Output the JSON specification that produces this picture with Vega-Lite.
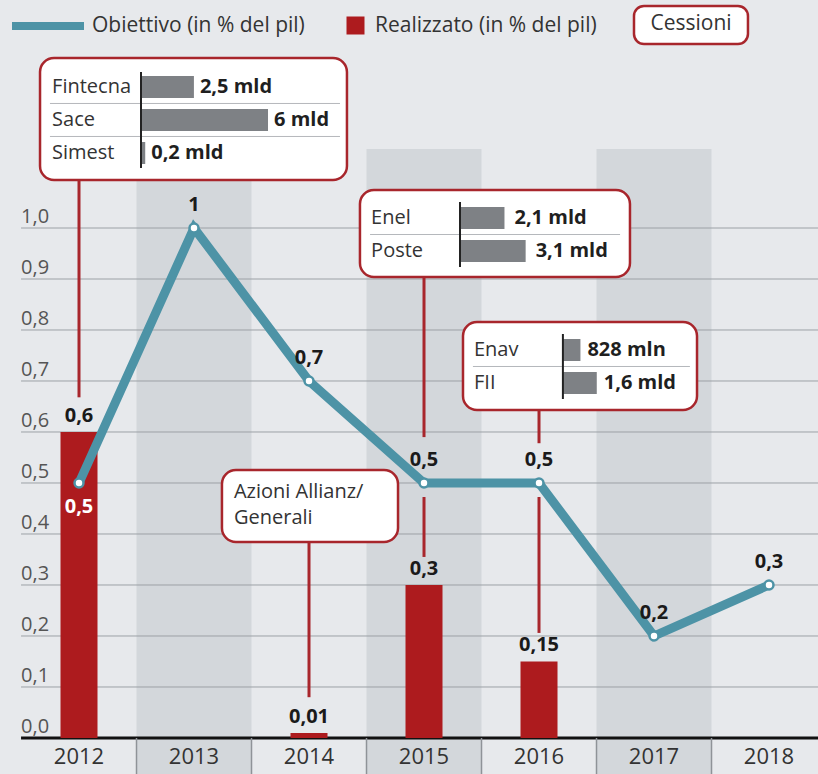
{
  "$schema": "https://vega.github.io/schema/vega-lite/v6.json",
  "width": 818,
  "height": 774,
  "autosize": {"type": "none"},
  "padding": 0,
  "background": "#e7e9ec",
  "config": {
    "view": {"stroke": null},
    "font": "Open Sans",
    "locale": {"number": {"decimal": ",", "thousands": ".", "grouping": [3], "currency": ["€", ""]}}
  },
  "datasets": {
    "obiettivo": [
      {"year": 2012, "v": 0.5}, {"year": 2013, "v": 1.0}, {"year": 2014, "v": 0.7},
      {"year": 2015, "v": 0.5}, {"year": 2016, "v": 0.5}, {"year": 2017, "v": 0.2}, {"year": 2018, "v": 0.3}
    ],
    "realizzato": [
      {"year": 2012, "v": 0.6}, {"year": 2014, "v": 0.01}, {"year": 2015, "v": 0.3}, {"year": 2016, "v": 0.15}
    ],
    "columns": [{"year": 2013}, {"year": 2015}, {"year": 2017}],
    "grid": [
      {"v": 0}, {"v": 0.1}, {"v": 0.2}, {"v": 0.3}, {"v": 0.4}, {"v": 0.5},
      {"v": 0.6}, {"v": 0.7}, {"v": 0.8}, {"v": 0.9}, {"v": 1.0}
    ],
    "connectors": [
      {"year": 2012, "v": 1.094, "v2": 0.668},
      {"year": 2015, "v": 0.904, "v2": 0.59},
      {"year": 2015, "v": 0.4725, "v2": 0.355},
      {"year": 2016, "v": 0.643, "v2": 0.578},
      {"year": 2016, "v": 0.4725, "v2": 0.206},
      {"year": 2014, "v": 0.384, "v2": 0.08}
    ],
    "callouts": [
      {"x1": 2011.661, "x2": 2014.330, "v": 1.3333, "v2": 1.094, "text": ""},
      {"x1": 2014.443, "x2": 2016.791, "v": 1.0745, "v2": 0.9039, "text": ""},
      {"x1": 2015.339, "x2": 2017.374, "v": 0.8157, "v2": 0.6431, "text": ""},
      {"x1": 2013.243, "x2": 2014.774, "v": 0.5255, "v2": 0.3843, "text": "Azioni Allianz/\nGenerali"}
    ],
    "cessioni": [
      {"x1": 2016.826, "x2": 2017.817, "v": 1.4353, "v2": 1.3608, "text": "Cessioni"}
    ],
    "box1": [
      {"row": 0, "name": "Fintecna", "val": 2.5, "label": "2,5 mld", "v": 1.2765},
      {"row": 1, "name": "Sace", "val": 6, "label": "6 mld", "v": 1.2118},
      {"row": 2, "name": "Simest", "val": 0.2, "label": "0,2 mld", "v": 1.1471}
    ],
    "box2": [
      {"row": 0, "name": "Enel", "val": 2.1, "label": "2,1 mld", "v": 1.0196},
      {"row": 1, "name": "Poste", "val": 3.1, "label": "3,1 mld", "v": 0.9549}
    ],
    "box3": [
      {"row": 0, "name": "Enav", "val": 0.828, "label": "828 mln", "v": 0.7608},
      {"row": 1, "name": "FII", "val": 1.6, "label": "1,6 mld", "v": 0.6961}
    ]
  },
  "resolve": {"scale": {"x": "independent"}},
  "layer": [
    {
      "layer": [
        {
          "data": {"name": "columns"},
          "mark": {"type": "bar", "width": 115, "color": "#d3d7db"},
          "encoding": {
            "x": {
              "field": "year", "type": "quantitative",
              "scale": {"domain": [2011.313, 2018.426], "nice": false, "zero": false, "padding": 0},
              "axis": null
            },
            "y": {
              "datum": 1.155, "type": "quantitative",
              "scale": {"domain": [-0.07059, 1.44706], "nice": false, "zero": false, "padding": 0},
              "axis": null
            },
            "y2": {"datum": -0.07059}
          }
        },
        {
          "data": {"name": "grid"},
          "mark": {"type": "rule"},
          "encoding": {
            "x": {"datum": 2011.496, "type": "quantitative", "axis": null},
            "x2": {"datum": 2018.426},
            "y": {"field": "v", "type": "quantitative", "axis": null},
            "color": {"condition": {"test": "datum.v == 0", "value": "#111111"}, "value": "#9ca1a6"},
            "strokeWidth": {"condition": {"test": "datum.v == 0", "value": 3}, "value": 1}
          }
        },
        {
          "data": {"name": "grid"},
          "mark": {"type": "text", "align": "left", "baseline": "alphabetic", "dy": -5, "fontSize": 20, "color": "#555555"},
          "encoding": {
            "x": {"datum": 2011.496, "type": "quantitative", "axis": null},
            "y": {"field": "v", "type": "quantitative", "axis": null},
            "text": {"field": "v", "type": "quantitative", "format": ".1f"}
          }
        },
        {
          "data": {"name": "obiettivo"},
          "transform": [{"filter": "datum.year < 2018"}],
          "mark": {"type": "rule", "xOffset": 57.5, "color": "#8f9398", "strokeWidth": 1.5},
          "encoding": {
            "x": {"field": "year", "type": "quantitative", "axis": null},
            "y": {"datum": 0, "type": "quantitative", "axis": null},
            "y2": {"datum": -0.07059}
          }
        },
        {
          "data": {"name": "obiettivo"},
          "mark": {"type": "text", "align": "center", "baseline": "middle", "dy": 19, "fontSize": 22, "color": "#333333"},
          "encoding": {
            "x": {"field": "year", "type": "quantitative", "axis": null},
            "y": {"datum": 0, "type": "quantitative", "axis": null},
            "text": {"field": "year", "type": "quantitative", "format": "d"}
          }
        },
        {
          "data": {"name": "connectors"},
          "mark": {"type": "rule", "color": "#a8262c", "strokeWidth": 3},
          "encoding": {
            "x": {"field": "year", "type": "quantitative", "axis": null},
            "y": {"field": "v", "type": "quantitative", "axis": null},
            "y2": {"field": "v2"}
          }
        },
        {
          "data": {"name": "realizzato"},
          "mark": {"type": "bar", "width": 37},
          "encoding": {
            "x": {"field": "year", "type": "quantitative", "axis": null},
            "y": {"field": "v", "type": "quantitative", "axis": null},
            "color": {
              "datum": "Realizzato (in % del pil)", "type": "nominal",
              "scale": {"range": ["#ad1b1e"]},
              "legend": {
                "orient": "none", "legendX": 345, "legendY": 15, "title": null, "padding": 0,
                "symbolType": "square", "symbolSize": 324, "symbolStrokeWidth": 0, "labelOffset": 9,
                "labelFontSize": 21, "labelColor": "#333333", "labelFont": "Open Sans", "labelLimit": 400
              }
            }
          }
        },
        {
          "data": {"name": "obiettivo"},
          "mark": {"type": "line", "strokeWidth": 9},
          "encoding": {
            "x": {"field": "year", "type": "quantitative", "axis": null},
            "y": {"field": "v", "type": "quantitative", "axis": null},
            "stroke": {
              "datum": "Obiettivo (in % del pil)", "type": "nominal",
              "scale": {"range": ["#4d93a6"]},
              "legend": {
                "orient": "none", "legendX": 8, "legendY": -14, "title": null, "padding": 0,
                "symbolType": "stroke", "symbolSize": 5184, "symbolStrokeWidth": 8, "labelOffset": 4,
                "labelFontSize": 21, "labelColor": "#333333", "labelFont": "Open Sans", "labelLimit": 400
              }
            }
          }
        },
        {
          "data": {"name": "obiettivo"},
          "mark": {"type": "point", "filled": true, "fill": "#ffffff", "stroke": "#4d93a6", "strokeWidth": 2.5, "size": 80, "opacity": 1},
          "encoding": {
            "x": {"field": "year", "type": "quantitative", "axis": null},
            "y": {"field": "v", "type": "quantitative", "axis": null}
          }
        },
        {
          "data": {"name": "obiettivo"},
          "transform": [{"filter": "datum.year != 2012"}],
          "mark": {"type": "text", "dy": -17, "fontSize": 20, "fontWeight": "bold", "color": "#1a1a1a", "baseline": "alphabetic"},
          "encoding": {
            "x": {"field": "year", "type": "quantitative", "axis": null},
            "y": {"field": "v", "type": "quantitative", "axis": null},
            "text": {"field": "v", "type": "quantitative", "format": "~g"}
          }
        },
        {
          "data": {"name": "obiettivo"},
          "transform": [{"filter": "datum.year == 2012"}],
          "mark": {"type": "text", "dy": 30, "fontSize": 20, "fontWeight": "bold", "color": "#ffffff", "baseline": "alphabetic"},
          "encoding": {
            "x": {"field": "year", "type": "quantitative", "axis": null},
            "y": {"field": "v", "type": "quantitative", "axis": null},
            "text": {"field": "v", "type": "quantitative", "format": "~g"}
          }
        },
        {
          "data": {"name": "realizzato"},
          "mark": {"type": "text", "dy": -10, "fontSize": 20, "fontWeight": "bold", "color": "#1a1a1a", "baseline": "alphabetic"},
          "encoding": {
            "x": {"field": "year", "type": "quantitative", "axis": null},
            "y": {"field": "v", "type": "quantitative", "axis": null},
            "text": {"field": "v", "type": "quantitative", "format": "~g"}
          }
        },
        {
          "data": {"name": "callouts"},
          "mark": {"type": "rect", "cornerRadius": 14, "fill": "#ffffff", "stroke": "#a8262c", "strokeWidth": 2.5},
          "encoding": {
            "x": {"field": "x1", "type": "quantitative", "axis": null},
            "x2": {"field": "x2"},
            "y": {"field": "v", "type": "quantitative", "axis": null},
            "y2": {"field": "v2"}
          }
        },
        {
          "data": {"name": "callouts"},
          "mark": {"type": "text", "align": "left", "baseline": "top", "dx": 12, "dy": 12, "fontSize": 20, "color": "#333333", "lineBreak": "\n", "lineHeight": 26},
          "encoding": {
            "x": {"field": "x1", "type": "quantitative", "axis": null},
            "y": {"field": "v", "type": "quantitative", "axis": null},
            "text": {"field": "text"}
          }
        },
        {
          "data": {"name": "cessioni"},
          "mark": {"type": "rect", "cornerRadius": 10, "fill": "#ffffff", "stroke": "#a8262c", "strokeWidth": 2.5},
          "encoding": {
            "x": {"field": "x1", "type": "quantitative", "axis": null},
            "x2": {"field": "x2"},
            "y": {"field": "v", "type": "quantitative", "axis": null},
            "y2": {"field": "v2"}
          }
        },
        {
          "data": {"name": "cessioni"},
          "mark": {"type": "text", "align": "center", "baseline": "middle", "dx": 57, "dy": 18, "fontSize": 21, "color": "#333333"},
          "encoding": {
            "x": {"field": "x1", "type": "quantitative", "axis": null},
            "y": {"field": "v", "type": "quantitative", "axis": null},
            "text": {"field": "text"}
          }
        }
      ]
    },
    {
      "data": {"name": "box1"},
      "layer": [
        {
          "mark": {"type": "bar", "orient": "horizontal", "height": 22, "color": "#7e8185"},
          "encoding": {
            "x": {"field": "val", "type": "quantitative", "scale": {"domain": [-6.66, 31.98], "nice": false, "zero": false, "padding": 0}, "axis": null},
            "x2": {"datum": 0},
            "y": {"field": "v", "type": "quantitative", "axis": null}
          }
        },
        {
          "transform": [{"filter": "datum.row > 0"}],
          "mark": {"type": "rule", "yOffset": -16.5, "color": "#b5b8bc", "strokeWidth": 1},
          "encoding": {
            "x": {"datum": -4.3, "type": "quantitative", "axis": null},
            "x2": {"datum": 9.4},
            "y": {"field": "v", "type": "quantitative", "axis": null}
          }
        },
        {
          "mark": {"type": "rule", "yOffset": -15, "y2Offset": 15, "color": "#222222", "strokeWidth": 2},
          "encoding": {
            "x": {"datum": 0, "type": "quantitative", "axis": null},
            "y": {"aggregate": "max", "field": "v", "type": "quantitative", "axis": null},
            "y2": {"aggregate": "min", "field": "v"}
          }
        },
        {
          "mark": {"type": "text", "align": "left", "baseline": "middle", "fontSize": 20, "color": "#333333"},
          "encoding": {
            "x": {"datum": -4.2, "type": "quantitative", "axis": null},
            "y": {"field": "v", "type": "quantitative", "axis": null},
            "text": {"field": "name"}
          }
        },
        {
          "mark": {"type": "text", "align": "left", "baseline": "middle", "dx": 6, "fontSize": 20, "fontWeight": "bold", "color": "#1f1f1f"},
          "encoding": {
            "x": {"field": "val", "type": "quantitative", "axis": null},
            "y": {"field": "v", "type": "quantitative", "axis": null},
            "text": {"field": "label"}
          }
        }
      ]
    },
    {
      "data": {"name": "box2"},
      "layer": [
        {
          "mark": {"type": "bar", "orient": "horizontal", "height": 22, "color": "#7e8185"},
          "encoding": {
            "x": {"field": "val", "type": "quantitative", "scale": {"domain": [-21.73, 16.91], "nice": false, "zero": false, "padding": 0}, "axis": null},
            "x2": {"datum": 0},
            "y": {"field": "v", "type": "quantitative", "axis": null}
          }
        },
        {
          "transform": [{"filter": "datum.row > 0"}],
          "mark": {"type": "rule", "yOffset": -16.5, "color": "#b5b8bc", "strokeWidth": 1},
          "encoding": {
            "x": {"datum": -4.25, "type": "quantitative", "axis": null},
            "x2": {"datum": 7.56},
            "y": {"field": "v", "type": "quantitative", "axis": null}
          }
        },
        {
          "mark": {"type": "rule", "yOffset": -16, "y2Offset": 16, "color": "#222222", "strokeWidth": 2},
          "encoding": {
            "x": {"datum": 0, "type": "quantitative", "axis": null},
            "y": {"aggregate": "max", "field": "v", "type": "quantitative", "axis": null},
            "y2": {"aggregate": "min", "field": "v"}
          }
        },
        {
          "mark": {"type": "text", "align": "left", "baseline": "middle", "fontSize": 20, "color": "#333333"},
          "encoding": {
            "x": {"datum": -4.2, "type": "quantitative", "axis": null},
            "y": {"field": "v", "type": "quantitative", "axis": null},
            "text": {"field": "name"}
          }
        },
        {
          "mark": {"type": "text", "align": "left", "baseline": "middle", "dx": 10, "fontSize": 20, "fontWeight": "bold", "color": "#1f1f1f"},
          "encoding": {
            "x": {"field": "val", "type": "quantitative", "axis": null},
            "y": {"field": "v", "type": "quantitative", "axis": null},
            "text": {"field": "label"}
          }
        }
      ]
    },
    {
      "data": {"name": "box3"},
      "layer": [
        {
          "mark": {"type": "bar", "orient": "horizontal", "height": 22, "color": "#7e8185"},
          "encoding": {
            "x": {"field": "val", "type": "quantitative", "scale": {"domain": [-26.59, 12.05], "nice": false, "zero": false, "padding": 0}, "axis": null},
            "x2": {"datum": 0},
            "y": {"field": "v", "type": "quantitative", "axis": null}
          }
        },
        {
          "transform": [{"filter": "datum.row > 0"}],
          "mark": {"type": "rule", "yOffset": -16.5, "color": "#b5b8bc", "strokeWidth": 1},
          "encoding": {
            "x": {"datum": -4.25, "type": "quantitative", "axis": null},
            "x2": {"datum": 6.0},
            "y": {"field": "v", "type": "quantitative", "axis": null}
          }
        },
        {
          "mark": {"type": "rule", "yOffset": -16, "y2Offset": 16, "color": "#222222", "strokeWidth": 2},
          "encoding": {
            "x": {"datum": 0, "type": "quantitative", "axis": null},
            "y": {"aggregate": "max", "field": "v", "type": "quantitative", "axis": null},
            "y2": {"aggregate": "min", "field": "v"}
          }
        },
        {
          "mark": {"type": "text", "align": "left", "baseline": "middle", "fontSize": 20, "color": "#333333"},
          "encoding": {
            "x": {"datum": -4.2, "type": "quantitative", "axis": null},
            "y": {"field": "v", "type": "quantitative", "axis": null},
            "text": {"field": "name"}
          }
        },
        {
          "mark": {"type": "text", "align": "left", "baseline": "middle", "dx": 7, "fontSize": 20, "fontWeight": "bold", "color": "#1f1f1f"},
          "encoding": {
            "x": {"field": "val", "type": "quantitative", "axis": null},
            "y": {"field": "v", "type": "quantitative", "axis": null},
            "text": {"field": "label"}
          }
        }
      ]
    }
  ]
}
